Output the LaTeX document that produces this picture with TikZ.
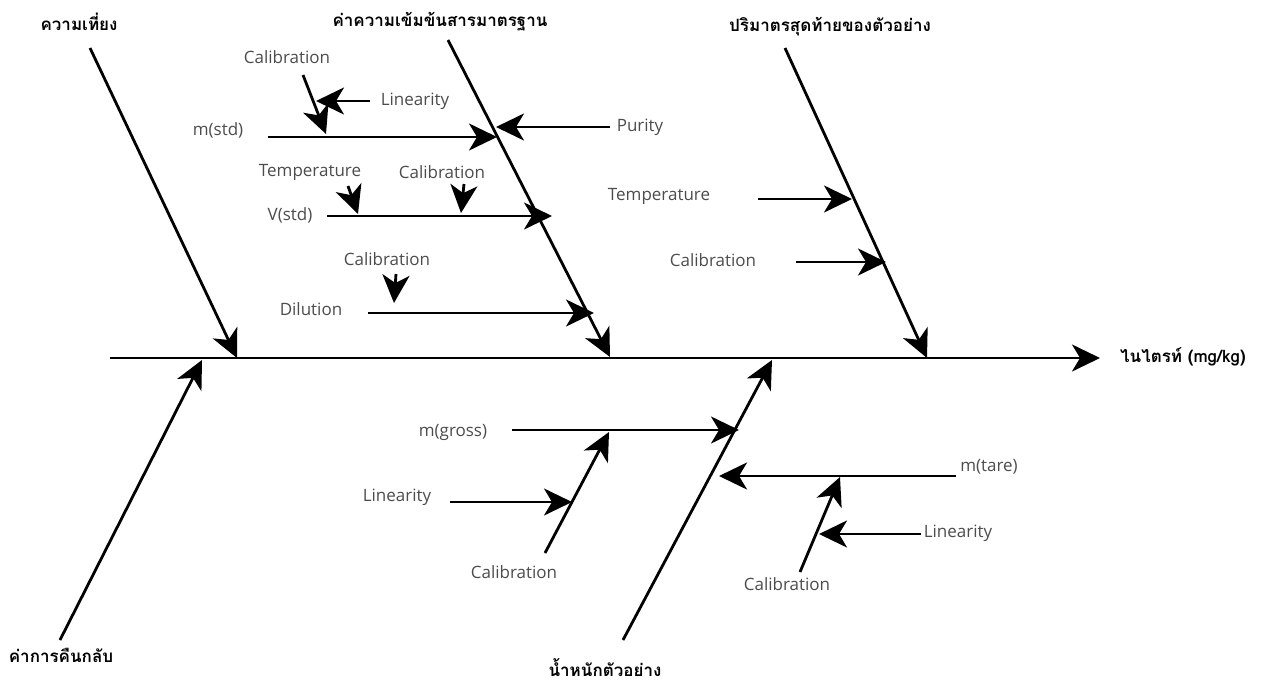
\documentclass[tikz,border=0pt]{standalone}
\usepackage{fontspec}
\setmainfont{Open Sans}
\newfontfamily\thaifont[Script=Thai]{Loma}
\usetikzlibrary{arrows.meta}
\begin{document}
\begin{tikzpicture}[x=1pt,y=-1pt,
  bone/.style={line width=2.8pt,-{Stealth[length=28pt,width=27pt,inset=8pt]}},
  lbl/.style={text=black!70,font=\fontsize{17}{20}\selectfont,inner sep=0pt},
  head/.style={text=black,font=\thaifont\bfseries\fontsize{17}{20}\selectfont,inner sep=0pt}]
\path[use as bounding box] (0,0) rectangle (1261,683);
% spine
\coordinate (sp0) at (110,358);
\coordinate (sp1) at (1100,358);
\draw[bone] (sp0) -- (sp1);
\node[head,anchor=west] (res) at (1120,357) {ไนไตรท์ (mg/kg)};
% main bones
\coordinate (b1s) at (90,48);   \coordinate (b1e) at (237,358);
\coordinate (b2s) at (448,40);  \coordinate (b2e) at (610,357);
\coordinate (b3s) at (785,48);  \coordinate (b3e) at (927,358);
\coordinate (b4s) at (60,640);  \coordinate (b4e) at (202,360);
\coordinate (b5s) at (623,640); \coordinate (b5e) at (772,360);
\draw[bone] (b1s) -- (b1e);
\draw[bone] (b2s) -- (b2e);
\draw[bone] (b3s) -- (b3e);
\draw[bone] (b4s) -- (b4e);
\draw[bone] (b5s) -- (b5e);
\node[head] (h1) at (79,22) {ความเที่ยง};
\node[head] (h2) at (440,22) {ค่าความเข้มข้นสารมาตรฐาน};
\node[head] (h3) at (830,27) {ปริมาตรสุดท้ายของตัวอย่าง};
\node[head] (h4) at (61,655) {ค่าการคืนกลับ};
\node[head] (h5) at (605,668) {น้ำหนักตัวอย่าง};
% branch 2 sub-bones
\node[lbl] (mstd) at (218,130) {m(std)};
\coordinate (ms0) at (268,137); \coordinate (ms1) at (497,137);
\draw[bone] (ms0) -- (ms1);
\node[lbl] (cal1) at (287,57) {Calibration};
\coordinate (c1s) at (303,75); \coordinate (c1e) at (326,134);
\draw[bone] (c1s) -- (c1e);
\node[lbl] (lin1) at (415,101) {Linearity};
\coordinate (l1s) at (370,101); \coordinate (l1e) at (316,101);
\draw[bone] (l1s) -- (l1e);
\node[lbl] (pur) at (640,127) {Purity};
\coordinate (p0) at (610,127); \coordinate (p1) at (496,127);
\draw[bone] (p0) -- (p1);
\node[lbl] (vstd) at (290,215) {V(std)};
\coordinate (v0) at (327,216); \coordinate (v1) at (552,216);
\draw[bone] (v0) -- (v1);
\node[lbl] (temp1) at (310,172) {Temperature};
\coordinate (t1s) at (348,186); \coordinate (t1e) at (358,214);
\draw[bone] (t1s) -- (t1e);
\node[lbl] (cal2) at (442,172) {Calibration};
\coordinate (c2s) at (464,184); \coordinate (c2e) at (461,213);
\draw[bone] (c2s) -- (c2e);
\node[lbl] (dil) at (311,309) {Dilution};
\coordinate (d0) at (368,313); \coordinate (d1) at (594,313);
\draw[bone] (d0) -- (d1);
\node[lbl] (cal3) at (387,259) {Calibration};
\coordinate (c3s) at (396,274); \coordinate (c3e) at (394,303);
\draw[bone] (c3s) -- (c3e);
% branch 3 sub-bones
\node[lbl] (temp2) at (659,196) {Temperature};
\coordinate (t2s) at (758,199); \coordinate (t2e) at (852,199);
\draw[bone] (t2s) -- (t2e);
\node[lbl] (cal4) at (713,260) {Calibration};
\coordinate (c4s) at (796,262); \coordinate (c4e) at (886,262);
\draw[bone] (c4s) -- (c4e);
% branch 5 sub-bones
\node[lbl] (mg) at (453,432) {m(gross)};
\coordinate (g0) at (512,430); \coordinate (g1) at (739,430);
\draw[bone] (g0) -- (g1);
\node[lbl] (cal5) at (514,572) {Calibration};
\coordinate (c5s) at (545,553); \coordinate (c5e) at (609,432);
\draw[bone] (c5s) -- (c5e);
\node[lbl] (lin2) at (397,497) {Linearity};
\coordinate (l2s) at (450,502); \coordinate (l2e) at (572,502);
\draw[bone] (l2s) -- (l2e);
\node[lbl] (mt) at (989,467) {m(tare)};
\coordinate (mt0) at (956,476); \coordinate (mt1) at (719,476);
\draw[bone] (mt0) -- (mt1);
\node[lbl] (cal6) at (787,584) {Calibration};
\coordinate (c6s) at (800,572); \coordinate (c6e) at (840,477);
\draw[bone] (c6s) -- (c6e);
\node[lbl] (lin3) at (958,533) {Linearity};
\coordinate (l3s) at (921,534); \coordinate (l3e) at (819,534);
\draw[bone] (l3s) -- (l3e);
\end{tikzpicture}
\end{document}
